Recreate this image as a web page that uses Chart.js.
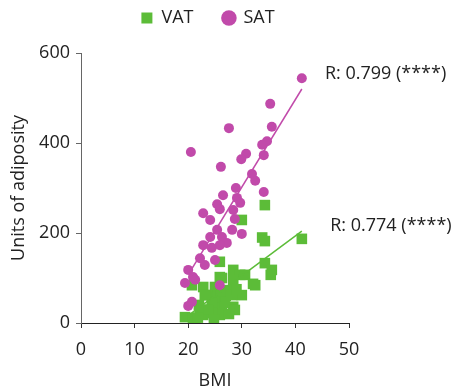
<!DOCTYPE html>
<html>
<head>
<meta charset="utf-8">
<script src="https://cdn.jsdelivr.net/npm/chart.js@4.4.0/dist/chart.umd.min.js"></script>
<style>
  body { margin: 0; background: #fff; }
</style>
</head>
<body>
<canvas id="grafico" width="452" height="392"></canvas>
<script>
// VAT (squares)
var vatBmi   = [34.3, 30.0, 33.8, 34.3, 41.2, 25.9, 34.3, 35.6, 35.4, 28.4, 29.7, 30.6, 25.9, 26.3, 32.1, 32.5,
                20.7, 22.8, 25.0, 28.4, 27.2, 23.5, 30.0, 28.2, 25.4, 25.6, 28.4, 28.7, 26.3, 24.4, 22.2,
                19.4, 20.9, 22.8, 25.9, 24.4, 21.3, 23.1, 22.0, 23.8, 26.8, 27.6, 24.8, 27.0, 29.0, 26.0, 21.8];
var vatUnits = [262, 229, 190, 182, 187, 136, 133, 118, 107, 118, 107, 107, 102, 100, 87, 84,
                84, 80, 80, 96, 73, 62, 62, 62, 58, 56, 36, 29, 33, 44, 24,
                13, 11, 18, 18, 22, 2, 62, 40, 30, 45, 20, 8, 60, 75, 70, 12];
// SAT (circles)
var satBmi   = [41.2, 35.3, 27.6, 35.6, 34.7, 33.8, 20.5, 30.8, 29.9, 34.1, 26.1, 31.9, 32.5, 28.9, 34.1,
                26.5, 29.1, 25.4, 29.7, 25.9, 28.4, 22.8, 24.1, 28.7, 25.4, 28.2, 30.0, 24.1, 26.3, 27.2,
                22.8, 25.9, 24.4, 22.2, 25.0, 23.1, 20.0, 20.9, 19.4, 21.3, 25.9, 20.7, 20.0];
var satUnits = [544, 487, 433, 436, 404, 396, 380, 376, 364, 373, 347, 331, 316, 300, 291,
                284, 278, 264, 267, 253, 251, 244, 229, 231, 207, 207, 198, 191, 191, 178,
                173, 173, 167, 144, 140, 129, 118, 102, 89, 96, 84, 47, 38];
// lineas de regresion
var vatFitBmi = [20.3, 41.2];
var vatFitUnits = [19, 204];
var satFitBmi = [20.3, 41.2];
var satFitUnits = [113, 520];
// etiquetas R
var rTextos = ["R: 0.799 (****)", "R: 0.774 (****)"];
var rBmi = [45.5, 46.5];
var rUnits = [553, 216];

var verde = 'rgb(92,188,56)';
var morado = 'rgb(193,74,170)';

function puntos(xs, ys) {
  var out = [];
  for (var i = 0; i < xs.length; i++) out.push({x: xs[i], y: ys[i]});
  return out;
}

Chart.defaults.font.family = '"Open Sans"';
Chart.defaults.font.size = 18;
Chart.defaults.color = '#222';

var etiquetas = {
  id: 'etiquetas',
  afterLayout: function(chart) {
    // subir la leyenda por encima del area del grafico
    var lg = chart.legend;
    lg.top -= 16; lg.bottom -= 16;
    lg.left -= 7; lg.right -= 7;
  },
  afterDatasetsDraw: function(chart) {
    var ctx = chart.ctx, sx = chart.scales.x, sy = chart.scales.y;
    ctx.save();
    ctx.font = '18px "Open Sans"';
    ctx.fillStyle = '#222';
    ctx.textBaseline = 'middle';
    ctx.textAlign = 'left';
    for (var i = 0; i < rTextos.length; i++) {
      ctx.fillText(rTextos[i], sx.getPixelForValue(rBmi[i]), sy.getPixelForValue(rUnits[i]));
    }
    ctx.restore();
  }
};

var gph = document.getElementById('grafico').getContext('2d');
var grafico = new Chart(gph, {
  type: 'scatter',
  data: {
    datasets: [{
      label: 'VAT',
      data: puntos(vatBmi, vatUnits),
      pointStyle: 'rect',
      pointRadius: 7.5,
      pointHoverRadius: 7.5,
      backgroundColor: verde,
      borderColor: verde,
      borderWidth: 0,
      order: 2
    }, {
      label: 'SAT',
      data: puntos(satBmi, satUnits),
      pointStyle: 'circle',
      pointRadius: 5,
      pointHoverRadius: 5,
      backgroundColor: morado,
      borderColor: morado,
      borderWidth: 0,
      order: 1
    }, {
      label: 'VAT fit',
      data: puntos(vatFitBmi, vatFitUnits),
      showLine: true,
      pointRadius: 0,
      borderColor: verde,
      borderWidth: 1.5,
      order: 0
    }, {
      label: 'SAT fit',
      data: puntos(satFitBmi, satFitUnits),
      showLine: true,
      pointRadius: 0,
      borderColor: morado,
      borderWidth: 1.5,
      order: 0
    }]
  },
  options: {
    responsive: false,
    animation: false,
    layout: { padding: { top: -5, right: 103, left: 0, bottom: 0 } },
    plugins: {
      legend: {
        position: 'top',
        fullSize: false,
        labels: {
          usePointStyle: true,
          boxWidth: 11,
          boxHeight: 11,
          padding: 30,
          color: '#222',
          font: { size: 18 },
          filter: function(item) { return item.datasetIndex < 2; },
          sort: function(a, b) { return a.datasetIndex - b.datasetIndex; }
        }
      },
      tooltip: { enabled: false }
    },
    scales: {
      x: {
        min: 0, max: 50,
        ticks: { stepSize: 10, padding: 11, color: '#222' },
        grid: { drawOnChartArea: false, drawTicks: true, tickLength: 5, color: '#333' },
        border: { color: '#222', width: 1 },
        title: { display: true, text: 'BMI', color: '#222', font: { size: 18 }, padding: { top: 0, bottom: 0 } },
        afterFit: function(scale) { scale.height = 69; }
      },
      y: {
        min: 0, max: 600,
        ticks: { stepSize: 200, padding: 6, color: '#222' },
        grid: { drawOnChartArea: false, drawTicks: true, tickLength: 5, color: '#666' },
        border: { color: '#666', width: 1 },
        title: { display: true, text: 'Units of adiposity', color: '#222', font: { size: 18 }, padding: { top: 8, bottom: 0 } },
        afterFit: function(scale) { scale.width = 81; }
      }
    }
  },
  plugins: [etiquetas]
});
</script>
</body>
</html>
